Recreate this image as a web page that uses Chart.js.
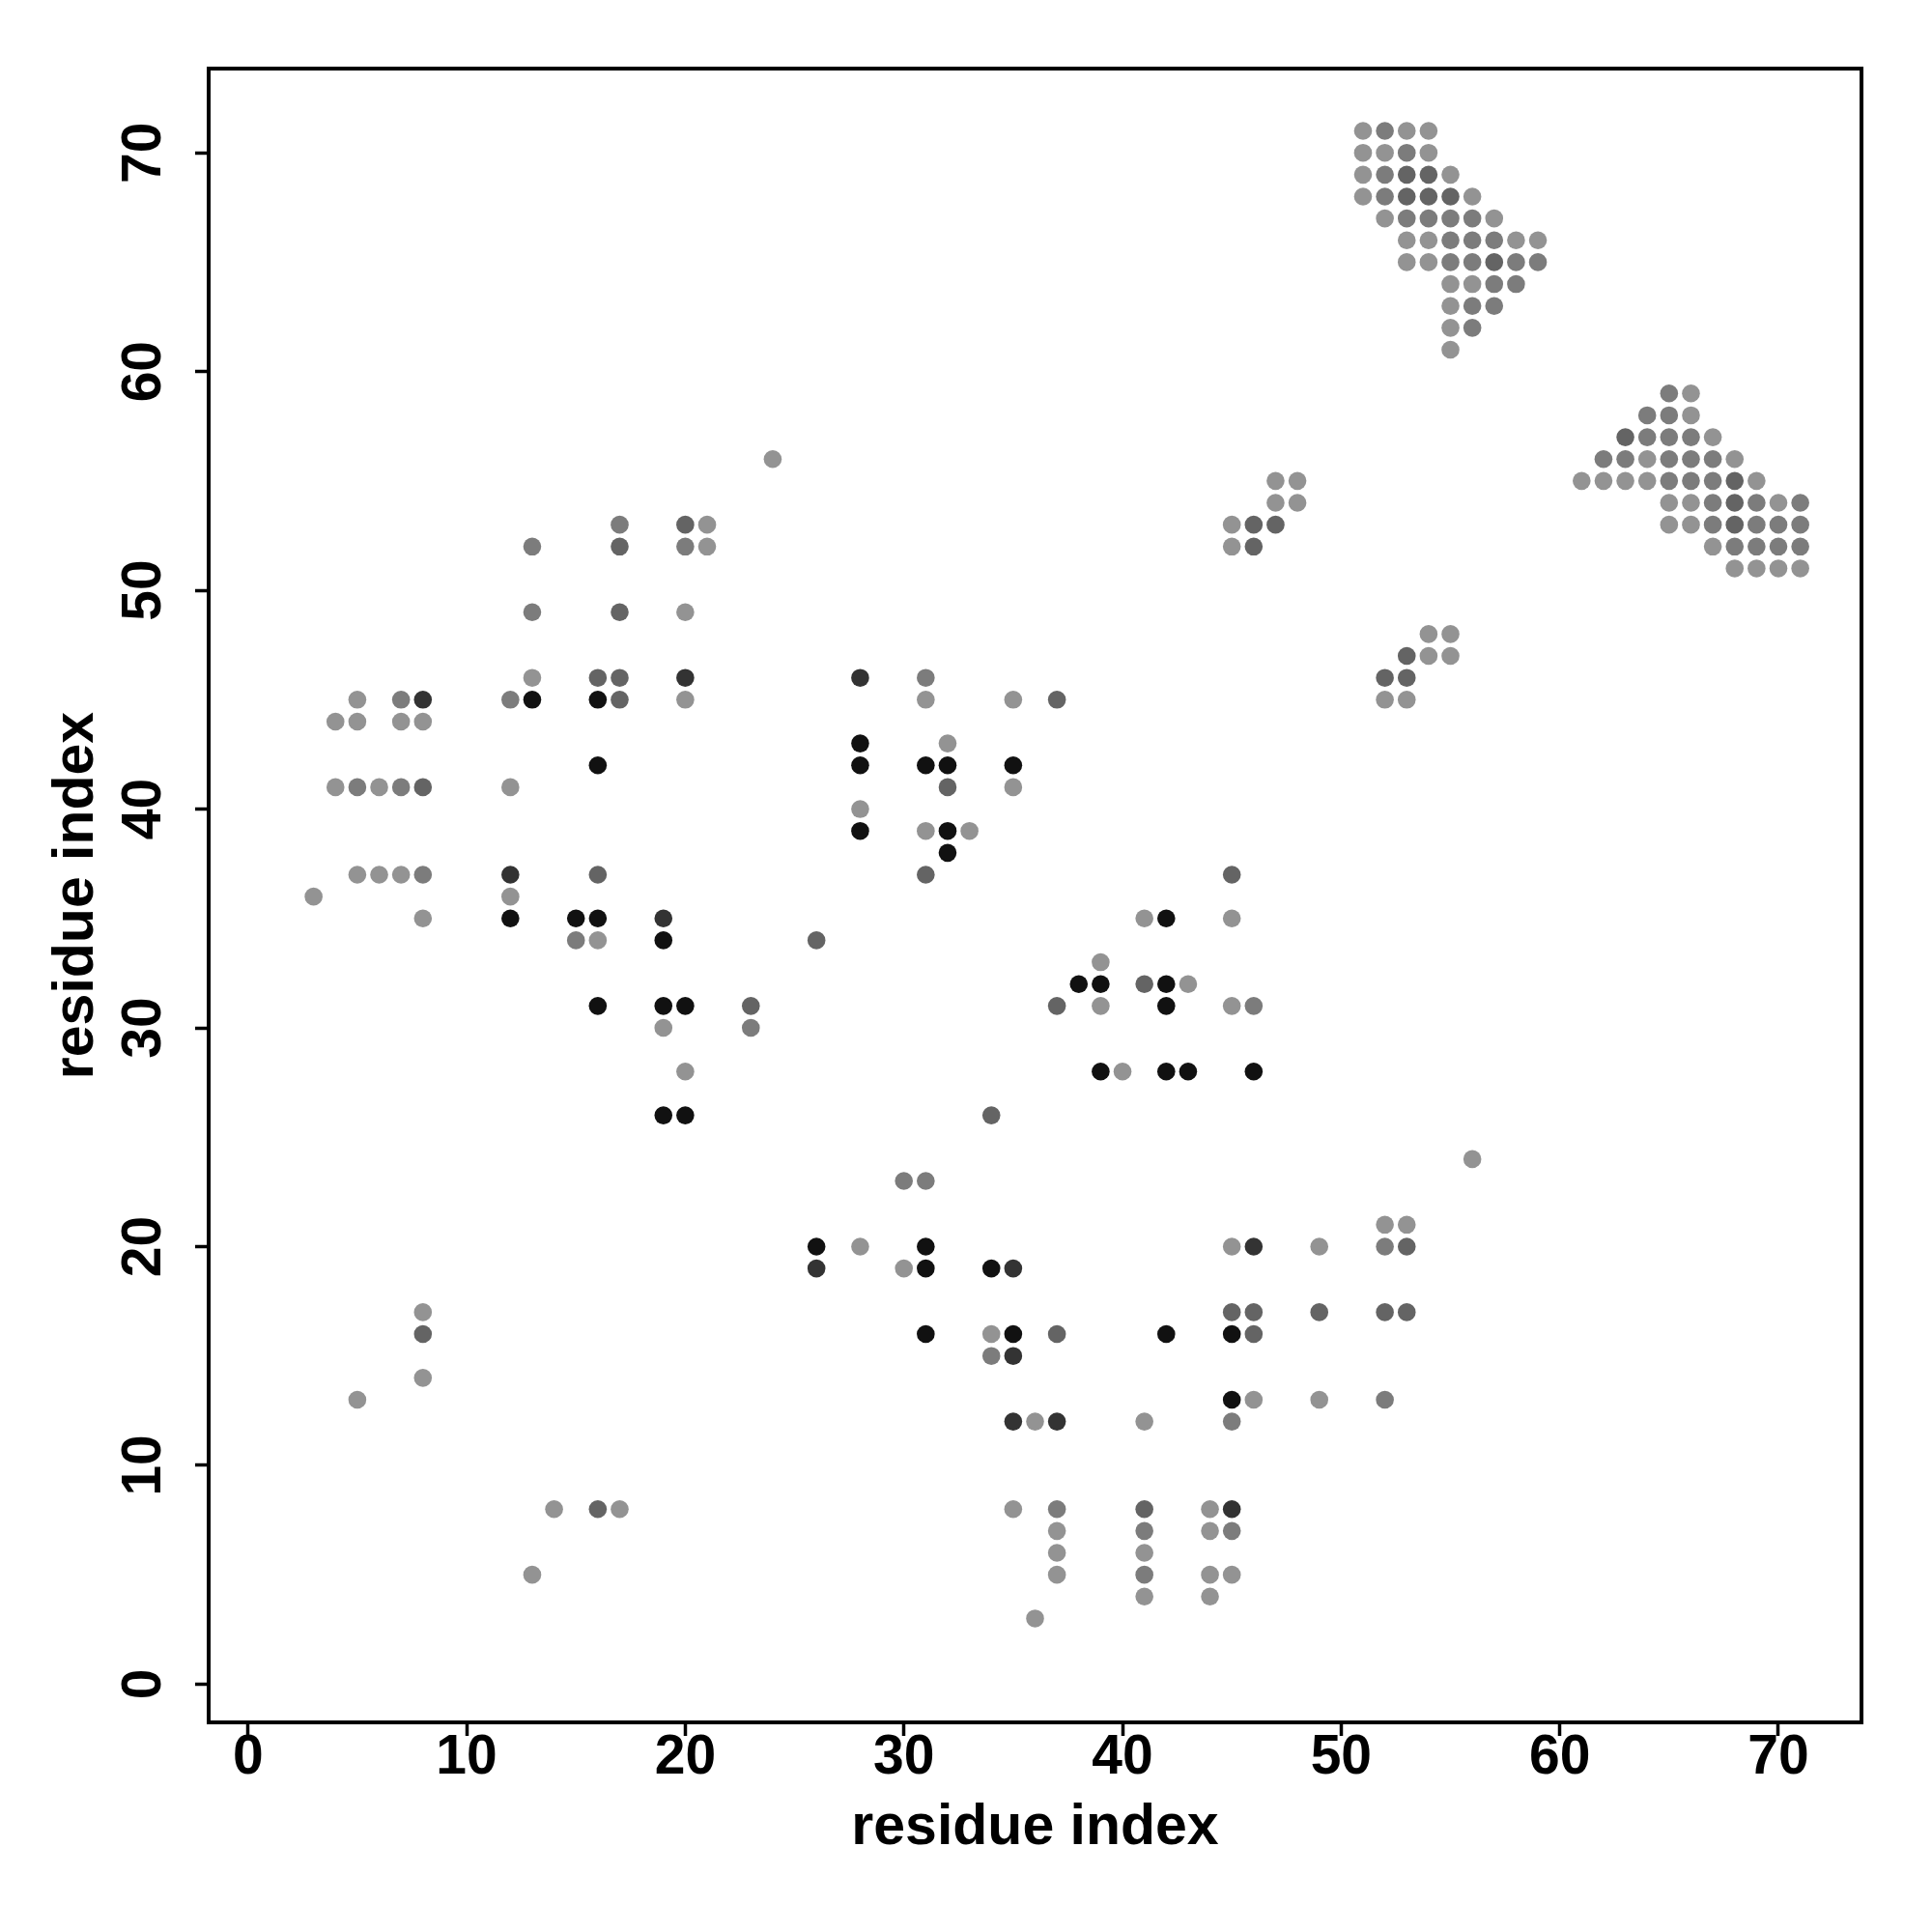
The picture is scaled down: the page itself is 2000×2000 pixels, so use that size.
<!DOCTYPE html>
<html>
<head>
<meta charset="utf-8">
<script src="https://cdn.jsdelivr.net/npm/chart.js@4.4.0/dist/chart.umd.min.js"></script>
<style>
  html, body { margin: 0; background: #fff; }
</style>
</head>
<body>
<canvas id="contacts" width="2000" height="2000"></canvas>
<script>
// contact pairs [i, j], grouped by shade (light -> black)
const lightPts = [
  [24,56],[21,53],[21,52],[20,49],[13,46],[5,45],[20,45],[4,44],[5,44],[7,44],[8,44],
  [4,41],[6,41],[12,41],[5,37],[6,37],[7,37],[3,36],[12,36],[8,35],[16,34],[19,30],[20,28],
  [31,45],[35,45],[32,43],[35,41],[28,40],[31,39],[33,39],[41,35],[45,35],[39,33],[43,32],
  [39,31],[45,31],[40,28],
  [56,24],[52,21],[53,21],[28,20],[45,20],[49,20],[30,19],[8,17],[34,16],[8,14],[5,13],
  [46,13],[49,13],[36,12],[41,12],[14,8],[17,8],[35,8],[44,8],[37,7],[44,7],[37,6],[41,6],
  [13,5],[37,5],[44,5],[45,5],[41,4],[44,4],[36,3],
  [47,55],[48,55],[47,54],[48,54],[45,53],[45,52],[54,48],[55,48],[54,47],[55,47],[52,45],[53,45],
  [51,71],[53,71],[54,71],[51,70],[52,70],[54,70],[51,69],[55,69],[51,68],[56,68],[52,67],
  [57,67],[53,66],[54,66],[58,66],[59,66],[53,65],[54,65],[55,64],[56,64],[55,63],[55,62],[55,61],
  [66,59],[66,58],[67,57],[64,56],[68,56],[61,55],[62,55],[63,55],[64,55],[69,55],[65,54],
  [66,54],[70,54],[65,53],[66,53],[67,52],[68,51],[69,51],[70,51],[71,51]
];
const mediumPts = [
  [17,53],[13,52],[20,52],[13,49],[7,45],[12,45],[5,41],[7,41],[8,37],[15,34],[23,30],[31,46],[46,31],
  [30,23],[31,23],[52,20],[34,15],[52,13],[45,12],[37,8],[41,7],[45,7],[41,5],
  [52,71],[53,70],[52,69],[52,68],[53,67],[54,67],[55,67],[56,67],[55,66],[56,66],[57,66],
  [55,65],[56,65],[58,65],[59,65],[57,64],[58,64],[56,63],[57,63],[56,62],
  [65,59],[64,58],[65,58],[64,57],[65,57],[66,57],[62,56],[63,56],[65,56],[66,56],[67,56],
  [65,55],[66,55],[67,55],[67,54],[69,54],[71,54],[67,53],[69,53],[70,53],[71,53],
  [68,52],[69,52],[70,52],[71,52]
];
const darkPts = [
  [20,53],[17,52],[17,49],[16,46],[17,46],[17,45],[8,41],[16,37],[23,31],[26,34],[37,45],
  [32,41],[31,37],[45,37],[41,32],[37,31],[34,26],
  [45,17],[46,17],[49,17],[52,17],[53,17],[8,16],[37,16],[46,16],[16,8],[41,8],[53,20],
  [46,53],[47,53],[46,52],[53,47],[52,46],[53,46],
  [53,69],[54,69],[53,68],[54,68],[55,68],[57,65],
  [63,57],[68,55],[68,54],[68,53]
];
const darkerPts = [
  [8,45],[20,46],[12,37],[19,35],[28,46],[46,20],[26,19],[35,19],[35,15],[35,12],[37,12],[45,8]
];
const blackPts = [
  [13,45],[16,45],[16,42],[12,35],[15,35],[16,35],[19,34],[16,31],[19,31],[20,31],[19,26],[20,26],
  [28,43],[28,42],[31,42],[32,42],[35,42],[28,39],[32,39],[32,38],[42,35],[38,32],[39,32],
  [42,32],[42,31],[39,28],[42,28],[43,28],[46,28],
  [26,20],[31,20],[31,19],[34,19],[31,16],[35,16],[42,16],[45,16],[45,13]
];
const shadeColors = ["#939393", "#7c7c7c", "#646464", "#333333", "#111111"];
const tickValues = [0, 10, 20, 30, 40, 50, 60, 70];

const FONT = "'Liberation Sans', Arial, Helvetica, sans-serif";
const toXY = pts => pts.map(p => ({ x: p[0], y: p[1] }));

// box round the plot plus R-style tick labels (y ones rotated)
const frame = {
  id: "frame",
  afterDraw(chart) {
    const { ctx, chartArea: a } = chart;
    const xs = chart.scales.x, ys = chart.scales.y;
    ctx.save();
    ctx.strokeStyle = "#000";
    ctx.lineWidth = 4;
    ctx.strokeRect(a.left, a.top, a.right - a.left, a.bottom - a.top);
    ctx.fillStyle = "#000";
    ctx.font = "bold 57px " + FONT;
    ctx.textAlign = "center";
    ctx.textBaseline = "middle";
    tickValues.forEach(v => {
      ctx.fillText(String(v), xs.getPixelForValue(v), a.bottom + 37);
    });
    tickValues.forEach(v => {
      ctx.save();
      ctx.translate(a.left - 66, ys.getPixelForValue(v));
      ctx.rotate(-Math.PI / 2);
      ctx.fillText(String(v), 0, 0);
      ctx.restore();
    });
    ctx.restore();
  }
};

const axisTitle = (pad) => ({
  display: true,
  text: "residue index",
  color: "#000",
  font: { family: FONT, size: 59, weight: "bold" },
  padding: pad
});

new Chart(document.getElementById("contacts"), {
  type: "scatter",
  data: {
    datasets: [lightPts, mediumPts, darkPts, darkerPts, blackPts].map((pts, i) => ({
      data: toXY(pts),
      backgroundColor: shadeColors[i],
      borderWidth: 0,
      pointRadius: 9.3,
      pointHoverRadius: 9.3
    }))
  },
  options: {
    responsive: false,
    animation: false,
    events: [],
    layout: { padding: { top: 71, right: 73, left: 0, bottom: 0 } },
    plugins: { legend: { display: false }, tooltip: { enabled: false } },
    scales: {
      x: {
        type: "linear",
        min: -1.8,
        max: 73.8,
        afterFit: s => { s.height = 217; },
        ticks: { stepSize: 10, includeBounds: false, display: false },
        grid: { drawOnChartArea: false, drawTicks: true, tickLength: 14, tickWidth: 3.5, tickColor: "#000" },
        border: { display: false },
        title: axisTitle({ top: 0, bottom: 72 })
      },
      y: {
        type: "linear",
        min: -1.75,
        max: 73.85,
        afterFit: s => { s.width = 216; },
        ticks: { stepSize: 10, includeBounds: false, display: false },
        grid: { drawOnChartArea: false, drawTicks: true, tickLength: 14, tickWidth: 3.5, tickColor: "#000" },
        border: { display: false },
        title: axisTitle({ top: 44, bottom: 0 })
      }
    }
  },
  plugins: [frame]
});
</script>
</body>
</html>
